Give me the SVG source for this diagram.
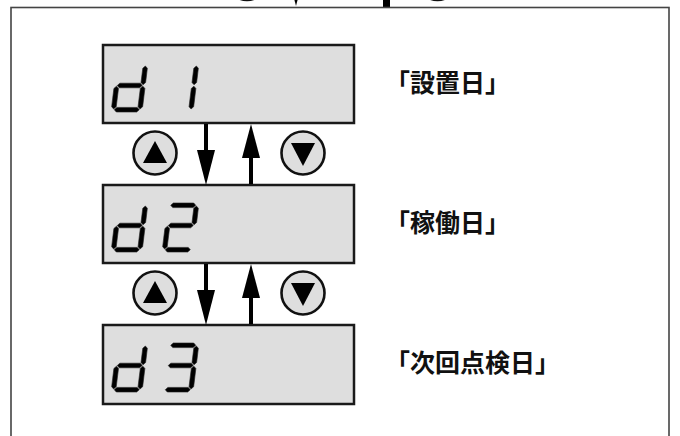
<svg xmlns="http://www.w3.org/2000/svg" xmlns:xlink="http://www.w3.org/1999/xlink" width="680" height="436" viewBox="0 0 680 436">
<style>
.frame{fill:none;stroke:#444;stroke-width:1.6}
.lcd{fill:#dedede;stroke:#1a1a1a;stroke-width:2.5}
.seg{fill:#000;stroke:#222;stroke-width:0.6;stroke-linejoin:round}
.btn{fill:#dedede;stroke:#111;stroke-width:2.6}
.tri{fill:#000}
.shaft{stroke:#000;stroke-width:4;fill:none}
.head{fill:#000}
.lbl{font-family:"Noto Sans CJK JP","Noto Sans CJK SC",sans-serif;font-size:25px;font-weight:bold;fill:#111}
</style>
<defs>
<polygon id="sa" points="3.0,-46.7 5.3,-49.0 25.7,-49.0 28.0,-46.7 25.7,-44.4 5.3,-44.4"/>
<polygon id="sg" points="3.0,-26.5 5.3,-28.8 25.7,-28.8 28.0,-26.5 25.7,-24.2 5.3,-24.2"/>
<polygon id="sd" points="3.0,-2.3 5.3,-4.6 25.7,-4.6 28.0,-2.3 25.7,0 5.3,0"/>
<polygon id="sb" points="28.7,-46.0 31.0,-43.7 31.0,-29.5 28.7,-27.2 26.4,-29.5 26.4,-43.7"/>
<polygon id="sc" points="28.7,-25.8 31.0,-23.5 31.0,-5.3 28.7,-3.0 26.4,-5.3 26.4,-23.5"/>
<polygon id="se" points="2.3,-25.8 4.6,-23.5 4.6,-5.3 2.3,-3.0 0,-5.3 0,-23.5"/>
<g id="dig-d"><use xlink:href="#sb"/><use xlink:href="#sc"/><use xlink:href="#sd"/><use xlink:href="#se"/><use xlink:href="#sg"/></g>
<g id="dig-1"><use xlink:href="#sb"/><use xlink:href="#sc"/></g>
<g id="dig-2"><use xlink:href="#sa"/><use xlink:href="#sb"/><use xlink:href="#sg"/><use xlink:href="#se"/><use xlink:href="#sd"/></g>
<g id="dig-3"><use xlink:href="#sa"/><use xlink:href="#sb"/><use xlink:href="#sg"/><use xlink:href="#sc"/><use xlink:href="#sd"/></g>
<g id="btn-up"><circle class="btn" cx="0" cy="0" r="21.5"/><polygon class="tri" points="0,-12 -12,10 12,10"/></g>
<g id="btn-down"><circle class="btn" cx="0" cy="0" r="21.5"/><polygon class="tri" points="-12,-10 12,-10 0,13"/></g>
</defs>
<rect width="680" height="436" fill="#fff"/>

<g id="top-cut">
<circle class="btn" cx="247" cy="-19" r="19"/>
<polygon class="head" points="287,-29 305,-29 296,6"/>
<rect x="383" y="-10" width="7" height="18" fill="#000"/>
<circle class="btn" cx="437.5" cy="-19" r="19"/>
</g>

<rect class="frame" x="11" y="7.5" width="658" height="440"/>

<g id="node-d1">
<rect class="lcd" x="103" y="45" width="251" height="78"/>
<g class="seg"><use xlink:href="#dig-d" transform="translate(111,112) skewX(-7)"/><use xlink:href="#dig-1" transform="translate(162,112) skewX(-7)"/></g>
<text class="lbl" x="385" y="92">「設置日」</text>
</g>
<g id="node-d2">
<rect class="lcd" x="103" y="185" width="251" height="78"/>
<g class="seg"><use xlink:href="#dig-d" transform="translate(111,252) skewX(-7)"/><use xlink:href="#dig-2" transform="translate(162,252) skewX(-7)"/></g>
<text class="lbl" x="385" y="232">「稼働日」</text>
</g>
<g id="node-d3">
<rect class="lcd" x="103" y="325" width="251" height="79"/>
<g class="seg"><use xlink:href="#dig-d" transform="translate(111,392) skewX(-7)"/><use xlink:href="#dig-3" transform="translate(162,392) skewX(-7)"/></g>
<text class="lbl" x="385" y="372">「次回点検日」</text>
</g>

<g id="buttons">
<use xlink:href="#btn-up" x="155" y="153"/>
<use xlink:href="#btn-down" x="303" y="153"/>
<use xlink:href="#btn-up" x="155" y="293"/>
<use xlink:href="#btn-down" x="303" y="293"/>
</g>

<g id="connectors">
<line class="shaft" x1="206" y1="124" x2="206" y2="155"/>
<polygon class="head" points="197,150 215,150 206,185"/>
<line class="shaft" x1="251" y1="184" x2="251" y2="154"/>
<polygon class="head" points="242,158 260,158 251,124"/>
<line class="shaft" x1="206" y1="264" x2="206" y2="295"/>
<polygon class="head" points="197,290 215,290 206,325"/>
<line class="shaft" x1="251" y1="324" x2="251" y2="294"/>
<polygon class="head" points="242,298 260,298 251,264"/>
</g>
</svg>
